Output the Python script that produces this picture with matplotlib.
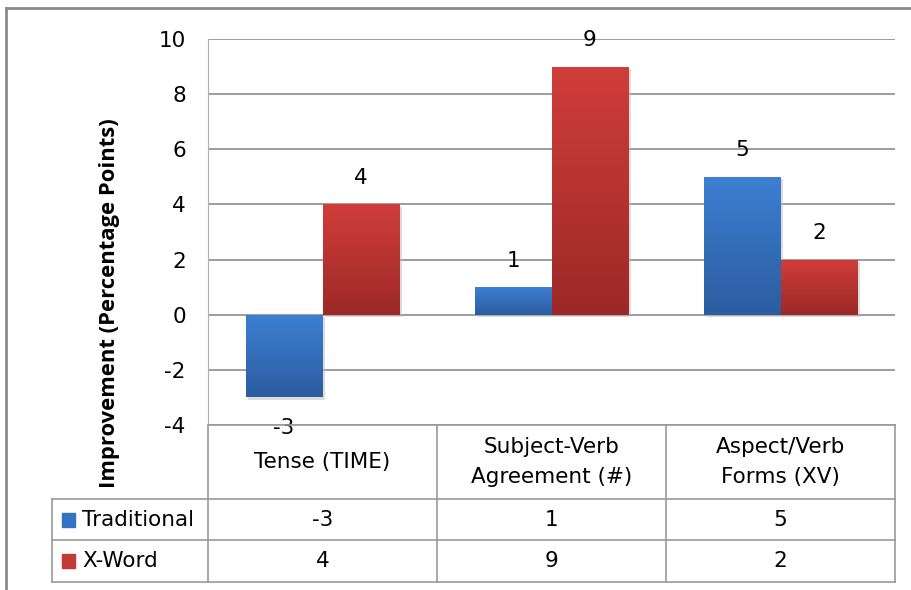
import matplotlib
matplotlib.use("Agg")
import matplotlib.pyplot as plt
import numpy as np
from matplotlib.transforms import blended_transform_factory
from matplotlib.colors import LinearSegmentedColormap
from matplotlib.patches import Rectangle

categories = ["Tense (TIME)", "Subject-Verb\nAgreement (#)", "Aspect/Verb\nForms (XV)"]
series = ["Traditional", "X-Word"]
traditional = [-3, 1, 5]
xword = [4, 9, 2]
yticks = [-4, -2, 0, 2, 4, 6, 8, 10]

plt.rcParams['font.family'] = ['DejaVu Sans']
FS = 15.5

W, H = 911, 590
fig = plt.figure(figsize=(W / 100, H / 100), dpi=100)
ax = fig.add_axes([208 / W, 1 - 425 / H, (895 - 208) / W, (425 - 39) / H])

x = np.arange(len(categories))
bw = 0.336
b1 = ax.bar(x - bw / 2, traditional, bw, color='#3473c4', zorder=3)
b2 = ax.bar(x + bw / 2, xword, bw, color='#c33a37', zorder=3)

# vertical gradients clipped to each bar
grads = [('#3d7fd2', '#2b5d9f'), ('#d03d3a', '#9c2927')]
for bars, (top, bot) in zip([b1, b2], grads):
    cmap = LinearSegmentedColormap.from_list('g', [bot, top])
    for p in bars:
        bx, by = p.get_x(), p.get_y()
        w, h = p.get_width(), p.get_height()
        y0, y1 = min(by, by + h), max(by, by + h)
        # shadow
        ax.add_patch(Rectangle((bx + 0.01, y0 - 0.08), w, y1 - y0, color='#bbbbbb',
                               alpha=0.5, zorder=2, lw=0))
        img = ax.imshow(np.linspace(0, 1, 100).reshape(-1, 1), cmap=cmap, origin='lower',
                        extent=[bx, bx + w, y0, y1], aspect='auto', zorder=3.5)
        img.set_clip_path(p)

# data labels
for bars, vals in zip([b1, b2], [traditional, xword]):
    for p, v in zip(bars, vals):
        xc = p.get_x() + p.get_width() / 2
        off = 19 if v >= 0 else -22
        ax.annotate(str(v), (xc, v), xytext=(0, off), textcoords='offset points',
                    ha='center', va='center', fontsize=FS, zorder=5)

ax.set_xlim(-0.5, 2.5)
ax.set_ylim(-4, 10)
ax.set_yticks(yticks)
ax.set_yticklabels([str(t) for t in yticks], fontsize=FS)
ax.set_xticks([])
ax.tick_params(axis='y', length=0, pad=16)
ax.yaxis.grid(True, color='#8c8c8c', lw=1.2, zorder=0)
for s in ['top', 'right', 'bottom']:
    ax.spines[s].set_visible(False)
ax.spines['left'].set_color('#b0b0b0')

fx = lambda px: px / W
fy = lambda py: 1 - py / H
fig.text(fx(110), fy(303), "Improvement (Percentage Points)", rotation=90,
         ha='center', va='center', fontsize=15.8, fontweight='bold',
         family=['Open Sans', 'DejaVu Sans'])

# data table below the plot
tr = blended_transform_factory(ax.transData, fig.transFigure)
lc = '#9a9a9a'
edges = np.arange(len(categories) + 1) - 0.5
y_top, y_hdr, y_r1, y_r2 = 425, 499, 540, 582
for e in edges:
    fig.add_artist(plt.Line2D([e, e], [fy(y_top), fy(y_r2)], transform=tr, color=lc, lw=1.2))
fig.add_artist(plt.Line2D([-0.5, 2.5], [fy(y_top), fy(y_top)], transform=tr, color=lc, lw=1.2))
for yy in [y_hdr, y_r1, y_r2]:
    fig.add_artist(plt.Line2D([fx(52), fx(895)], [fy(yy), fy(yy)], color=lc, lw=1.2))
fig.add_artist(plt.Line2D([fx(52), fx(52)], [fy(y_hdr), fy(y_r2)], color=lc, lw=1.2))

for xi, c in zip(x, categories):
    t = fig.text(0, fy((y_top + y_hdr) / 2), c, transform=tr, ha='center', va='center',
                 fontsize=FS, linespacing=1.6)
    t.set_x(xi)

rows = [(series[0], traditional, '#3473c4', y_hdr, y_r1), (series[1], xword, '#c33a37', y_r1, y_r2)]
for name, vals, col, ya, yb in rows:
    ym = fy((ya + yb) / 2)
    fig.add_artist(Rectangle((fx(62), ym - 7 / H), 13 / W, 14 / H, color=col,
                             transform=fig.transFigure))
    fig.text(fx(82), ym, name, ha='left', va='center', fontsize=FS)
    for xi, v in zip(x, vals):
        t = fig.text(0, ym, str(v), transform=tr, ha='center', va='center', fontsize=FS)
        t.set_x(xi)

# outer chart border
fig.add_artist(plt.Line2D([fx(6), fx(6)], [0, fy(8)], color='#8a8a8a', lw=2))
fig.add_artist(plt.Line2D([fx(6), 1], [fy(8), fy(8)], color='#8a8a8a', lw=2))

fig.savefig('out.png', dpi=100)
